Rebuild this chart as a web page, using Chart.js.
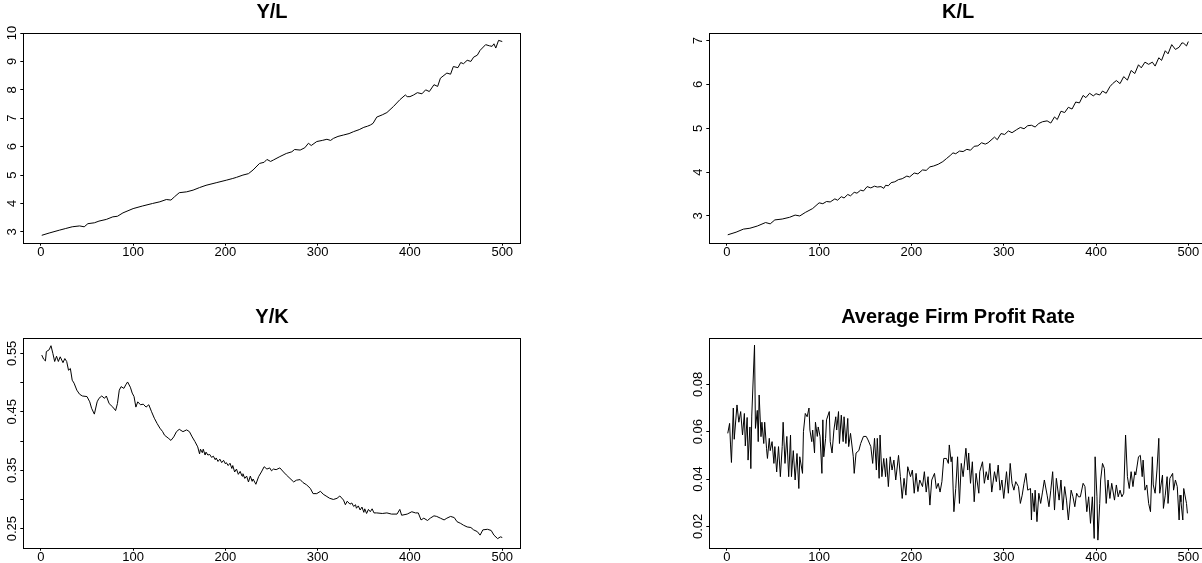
<!DOCTYPE html>
<html>
<head>
<meta charset="utf-8">
<script src="https://cdn.jsdelivr.net/npm/chart.js@4.4.1/dist/chart.umd.min.js"></script>
<style>
    html, body { margin: 0; padding: 0; background: #fff; overflow: hidden; }
    #wrap { position: relative; width: 1202px; height: 563px; overflow: hidden; }
    canvas { position: absolute; }
</style>
</head>
<body>
<div id="wrap">
    <canvas id="yl" width="540" height="270" style="left:0;top:0;width:540px;height:270px"></canvas>
    <canvas id="kl" width="540" height="270" style="left:680px;top:0;width:540px;height:270px"></canvas>
    <canvas id="yk" width="540" height="273" style="left:0;top:290px;width:540px;height:273px"></canvas>
    <canvas id="pr" width="540" height="273" style="left:680px;top:290px;width:540px;height:273px"></canvas>
</div>
<script>
// period axis
const xTicks = [0, 100, 200, 300, 400, 500];

// Y/L
const ylT = [1, 9, 20, 27, 34, 42, 47, 51, 58, 63, 71, 78, 83, 89, 100, 110, 121, 129, 136, 141,
    145, 150, 158, 165, 172, 179, 190, 201, 208, 212, 219, 225, 230, 237, 242, 245, 249, 252, 259, 266,
    272, 275, 281, 286, 290, 293, 299, 305, 310, 314, 317, 322, 328, 334, 339, 345, 350, 354, 357, 360,
    364, 370, 375, 382, 389, 395, 397, 400, 404, 408, 413, 417, 421, 426, 430, 433, 440, 444, 447, 452,
    455, 458, 462, 466, 469, 473, 476, 482, 486, 489, 491, 493, 496, 500];
const ylV = [2.88, 2.96, 3.06, 3.12, 3.18, 3.21, 3.18, 3.29, 3.32, 3.38, 3.44, 3.53, 3.55, 3.67, 3.82, 3.91, 4.0, 4.06, 4.14, 4.12,
    4.24, 4.38, 4.41, 4.47, 4.56, 4.64, 4.73, 4.82, 4.88, 4.92, 5.0, 5.05, 5.18, 5.41, 5.45, 5.55, 5.48, 5.53, 5.65, 5.76,
    5.82, 5.9, 5.88, 5.96, 6.12, 6.04, 6.18, 6.22, 6.26, 6.22, 6.29, 6.36, 6.41, 6.46, 6.53, 6.6, 6.68, 6.72, 6.76, 6.82,
    7.04, 7.12, 7.2, 7.41, 7.65, 7.82, 7.76, 7.76, 7.82, 7.9, 7.86, 8.0, 7.94, 8.18, 8.12, 8.41, 8.59, 8.55, 8.82, 8.78,
    8.96, 8.92, 9.04, 9.0, 9.15, 9.22, 9.39, 9.59, 9.55, 9.53, 9.62, 9.47, 9.74, 9.7];
const ylLabels = ['3', '4', '5', '6', '7', '8', '9', '10'];

// K/L
const klT = [1, 10, 18, 25, 33, 42, 47, 52, 60, 68, 74, 79, 85, 93,
    100, 104, 108, 112, 117, 120, 124, 127, 131, 134, 138, 141, 145, 148, 152, 156, 160, 163, 167, 170,
    172, 175, 178, 182, 186, 190, 195, 198, 203, 207, 212, 216, 220, 224, 229, 234, 238, 242, 245, 248,
    252, 256, 260, 264, 268, 272, 276, 280, 283,
    290, 293, 297, 301, 305, 309, 314, 318, 322, 326, 330, 334, 338, 342, 347, 351, 355, 358, 362, 366,
    370, 374, 378, 382, 386, 389, 393, 397, 400, 404, 407, 411, 415, 418, 422, 426, 430, 434, 438, 442,
    446, 449, 453, 457, 461, 464, 468, 471, 475, 478, 482, 486, 490, 493, 495, 498, 500];
const klV = [2.57, 2.63, 2.70, 2.72, 2.77, 2.85, 2.82, 2.91, 2.93, 2.97, 3.02, 3.0, 3.08, 3.17,
    3.30, 3.28, 3.33, 3.32, 3.39, 3.36, 3.44, 3.41, 3.49, 3.46, 3.54, 3.52, 3.59, 3.57, 3.67, 3.64, 3.68, 3.66, 3.67, 3.63,
    3.70, 3.69, 3.76, 3.78, 3.83, 3.85, 3.91, 3.89, 3.98, 3.96, 4.05, 4.04, 4.12, 4.14, 4.18, 4.24, 4.31, 4.38, 4.44, 4.42,
    4.48, 4.47, 4.52, 4.50, 4.59, 4.60, 4.67, 4.64, 4.67,
    4.80, 4.74, 4.88, 4.86, 4.94, 4.90, 4.97, 5.02, 4.99, 5.06, 5.07, 5.03, 5.11, 5.15, 5.17, 5.12, 5.26, 5.20, 5.39, 5.36,
    5.48, 5.44, 5.60, 5.58, 5.75, 5.70, 5.80, 5.74, 5.79, 5.76, 5.85, 5.80, 5.95, 6.02, 6.09, 6.02, 6.18, 6.10, 6.32, 6.25,
    6.45, 6.38, 6.51, 6.46, 6.51, 6.42, 6.61, 6.55, 6.77, 6.70, 6.91, 6.80, 6.85, 6.95, 6.94, 6.88, 6.98];
const klLabels = ['3', '4', '5', '6', '7'];

// Y/K
const ykT = [1, 3, 5, 6, 9, 11, 13, 15, 17, 19, 21, 24, 26, 28, 30, 32, 34, 36, 39, 42,
    45, 50, 53, 55, 58, 61, 63, 66, 69, 71, 74, 78, 81, 83, 85, 87, 90, 92, 94, 97,
    99, 101, 103, 105, 108, 111, 114, 117, 120, 123, 126, 129, 132, 134, 138, 141, 144, 147, 150, 154,
    158, 161, 164, 167,
    170, 172, 173, 175, 176, 178, 179, 181, 183, 185, 187, 189, 190, 192, 194, 196, 198, 200, 201, 203,
    205, 207, 208, 210, 212, 214, 216, 218, 219, 221, 223, 225, 227, 229, 230, 233, 236, 239, 242, 245,
    248, 250, 252, 255, 259,
    263, 266, 270, 274, 277, 281, 284, 288, 292, 295, 299, 303, 306, 310, 313, 317, 321, 324,
    328, 330, 332, 335, 337, 339, 341, 342, 344, 346, 348, 350, 351, 353, 355, 357, 359, 361,
    364, 370, 375, 380, 386, 389, 391, 397, 402, 406, 409, 412, 415, 419, 422, 426, 429, 433, 437, 440,
    444, 448, 451, 455, 458, 462, 466, 469, 473, 476, 479, 484, 488, 491, 495, 498, 500];
const ykV = [0.547, 0.540, 0.537, 0.553, 0.556, 0.563, 0.550, 0.536, 0.545, 0.536, 0.544, 0.534, 0.541, 0.536, 0.521, 0.524, 0.504, 0.499, 0.487, 0.480,
    0.477, 0.476, 0.467, 0.456, 0.446, 0.467, 0.473, 0.477, 0.473, 0.477, 0.464, 0.458, 0.452, 0.464, 0.487, 0.493, 0.490, 0.496, 0.501, 0.492,
    0.482, 0.476, 0.458, 0.467, 0.462, 0.463, 0.458, 0.462, 0.450, 0.439, 0.430, 0.422, 0.416, 0.410, 0.405, 0.401, 0.407, 0.416, 0.420, 0.416,
    0.419, 0.416, 0.407, 0.399,
    0.390, 0.378, 0.386, 0.380, 0.386, 0.376, 0.381, 0.376, 0.377, 0.372, 0.374, 0.368, 0.371, 0.365, 0.369, 0.363, 0.367, 0.361, 0.363, 0.358,
    0.362, 0.353, 0.358, 0.347, 0.352, 0.343, 0.348, 0.340, 0.344, 0.336, 0.340, 0.330, 0.340, 0.331, 0.335, 0.326, 0.339, 0.347, 0.356, 0.352,
    0.354, 0.349, 0.352, 0.351, 0.354,
    0.347, 0.342, 0.336, 0.330, 0.333, 0.334, 0.329, 0.325, 0.319, 0.310, 0.310, 0.314, 0.309, 0.305, 0.302, 0.300, 0.302, 0.306,
    0.299, 0.291, 0.297, 0.292, 0.294, 0.288, 0.291, 0.285, 0.289, 0.282, 0.287, 0.278, 0.284, 0.276, 0.283, 0.279, 0.284, 0.277,
    0.277, 0.276, 0.277, 0.275, 0.275, 0.283, 0.273, 0.275, 0.279, 0.277, 0.277, 0.265, 0.268, 0.264, 0.268, 0.272, 0.271, 0.268, 0.265, 0.268,
    0.271, 0.269, 0.262, 0.259, 0.256, 0.253, 0.252, 0.248, 0.245, 0.239, 0.248, 0.249, 0.247, 0.239, 0.233, 0.236, 0.235];
const ykLabels = ['0.25', '0.35', '0.45', '0.55'];

// Average Firm Profit Rate
const prT = [1, 3, 4, 5, 7, 8, 11, 13, 15, 17, 19, 20, 22, 23, 25, 26, 27, 30, 31, 33,
    34, 35, 37, 38, 40, 41, 43, 44, 46, 47, 49, 51, 52, 54, 56, 58, 60, 61, 63, 65,
    67, 69, 70, 72, 74, 76, 78, 79, 82, 83, 85, 87, 89, 90, 92, 93, 95, 96, 98, 99,
    101, 103, 104, 105, 107, 108, 111, 112, 114, 116, 118, 119, 121, 122, 124, 126, 127, 129, 131, 132,
    134, 137, 138, 140, 143, 145, 148, 151, 153, 156, 158, 160, 162, 163, 165, 166, 168, 170, 172, 173,
    175, 177, 179, 181, 183, 186, 188, 190, 192, 194, 196, 199, 201, 203, 205, 207, 209, 212, 214, 216,
    218, 220, 222, 225, 227, 229, 231, 233, 235, 238, 240, 241, 243, 244, 246, 248, 250, 252, 254, 256,
    259, 261, 262, 264, 266, 268, 270, 273, 274, 277, 279, 281, 283, 285, 287, 290, 292, 294, 296, 298,
    300, 303, 305, 307, 309, 311, 313, 316, 318, 320, 322, 324, 326, 329, 330, 331, 333, 334, 336, 338,
    340, 342, 344, 347, 349, 351, 353, 355, 357, 360, 362, 364, 366, 368, 370, 373, 375, 377, 379, 381,
    383, 386, 388, 390, 392, 394, 396, 398, 399, 401, 402, 404, 405, 407, 409, 411, 413, 415, 417, 420,
    422, 424, 426, 428, 430, 432, 434, 436, 438, 440, 442, 443, 446, 448, 450, 451, 453, 455, 457, 459,
    461, 462, 464, 466, 468, 469, 472, 473, 475, 477, 478, 480, 483, 484, 486, 488, 490, 491, 492, 494,
    495, 498, 499];
const prV = [0.0593, 0.0635, 0.0544, 0.047, 0.070, 0.0568, 0.0713, 0.064, 0.0685, 0.0586,
    0.0677, 0.054, 0.066, 0.048, 0.062, 0.0444, 0.0666, 0.0966, 0.0614, 0.069,
    0.0558, 0.0755, 0.0579, 0.064, 0.055, 0.064, 0.053, 0.0487, 0.0572, 0.052,
    0.0558, 0.0466, 0.0537, 0.043, 0.0537, 0.041, 0.0537, 0.064, 0.0466, 0.058,
    0.041, 0.0586, 0.041, 0.052, 0.0396, 0.0508, 0.036, 0.0494, 0.0424, 0.060,
    0.0677, 0.0663, 0.070, 0.0607, 0.0558, 0.0607, 0.051, 0.064, 0.058, 0.062,
    0.058, 0.0424, 0.065, 0.0494, 0.0572, 0.065, 0.0685, 0.0558, 0.051, 0.0607,
    0.0663, 0.0607, 0.0685, 0.055, 0.067, 0.0558, 0.0663, 0.055, 0.0656, 0.0537,
    0.0593, 0.0494, 0.0424, 0.051, 0.052, 0.055, 0.058, 0.058, 0.0565, 0.0537,
    0.0466, 0.0572, 0.0438, 0.0572, 0.0403, 0.0586, 0.041, 0.0487, 0.041, 0.0487,
    0.0368, 0.0494, 0.0438, 0.048, 0.0396, 0.050, 0.041, 0.0318, 0.0403, 0.0332,
    0.0452, 0.041, 0.0438, 0.034, 0.0424, 0.0347, 0.0396, 0.0368, 0.0431, 0.0345,
    0.041, 0.029, 0.0396, 0.0424, 0.036, 0.0382, 0.0345, 0.0389, 0.0487, 0.0487,
    0.0466, 0.0544, 0.0473, 0.0494, 0.0262, 0.036, 0.0494, 0.0297, 0.0466, 0.041,
    0.053, 0.0438, 0.051, 0.0382, 0.0473, 0.0304, 0.0424, 0.034, 0.0431, 0.0473,
    0.0382, 0.0431, 0.0396, 0.0466, 0.0345, 0.0431, 0.0389, 0.0459, 0.0353, 0.0396,
    0.0318, 0.0431, 0.034, 0.0466, 0.0382, 0.0353, 0.0389, 0.0368, 0.0297, 0.0332,
    0.0382, 0.0424, 0.0353, 0.036, 0.0227, 0.034, 0.0262, 0.0353, 0.022, 0.034,
    0.0297, 0.0345, 0.0396, 0.0332, 0.0283, 0.0353, 0.0431, 0.0269, 0.0403, 0.0311,
    0.0396, 0.0269, 0.0368, 0.0311, 0.0227, 0.0353, 0.0325, 0.0283, 0.034, 0.0325,
    0.0325, 0.0382, 0.0368, 0.0262, 0.0325, 0.0213, 0.0325, 0.0149, 0.0494, 0.0325,
    0.0142, 0.0297, 0.0396, 0.0466, 0.0445, 0.0297, 0.0396, 0.0318, 0.0382, 0.0311,
    0.0375, 0.0325, 0.0353, 0.0325, 0.034, 0.0586, 0.041, 0.036, 0.0431, 0.0368,
    0.0431, 0.0417, 0.0494, 0.050, 0.041, 0.048, 0.0353, 0.0375, 0.0297, 0.0262,
    0.0494, 0.0375, 0.034, 0.0438, 0.0572, 0.034, 0.0417, 0.0276, 0.0332, 0.041,
    0.0297, 0.0403, 0.0424, 0.0353, 0.0396, 0.0368, 0.0227, 0.0332, 0.0304, 0.0227,
    0.036, 0.0297, 0.0255];
const prLabels = ['0.02', '0.04', '0.06', '0.08'];

const FONT = '"Liberation Sans", Arial, Helvetica, sans-serif';

// box around the plot region, like R's bty="o"
const framePlugin = {
    id: 'frame',
    afterDraw(chart) {
        const { ctx, chartArea: a } = chart;
        ctx.save();
        ctx.strokeStyle = '#000';
        ctx.lineWidth = 1;
        ctx.strokeRect(Math.round(a.left) + 0.5, Math.round(a.top) + 0.5,
            Math.round(a.right - a.left), Math.round(a.bottom - a.top));
        ctx.restore();
    }
};

// R draws y labels parallel to the axis
const yLabelPlugin = {
    id: 'ylabels',
    afterDraw(chart, args, opts) {
        const { ctx, chartArea: a } = chart;
        const y = chart.scales.y;
        ctx.save();
        ctx.fillStyle = '#000';
        ctx.font = '13px ' + FONT;
        ctx.textAlign = 'center';
        ctx.textBaseline = 'middle';
        for (let lab of opts.labels) {
            const py = y.getPixelForValue(parseFloat(lab));
            ctx.save();
            ctx.translate(a.left - 11, py);
            ctx.rotate(-Math.PI / 2);
            ctx.fillText(lab, 0, 0);
            ctx.restore();
        }
        ctx.restore();
    }
};

function makePanel(id, title, xs, ys, p) {
    const points = xs.map((x, i) => ({ x: x, y: ys[i] }));
    return new Chart(document.getElementById(id), { // eslint-disable-line
        type: 'line',
        data: {
            datasets: [{
                data: points,
                borderColor: '#000',
                borderWidth: 1,
                pointRadius: 0,
                tension: 0,
                fill: false
            }]
        },
        options: {
            responsive: false,
            animation: false,
            events: [],
            layout: { padding: { left: 0, right: p.padRight, top: 0, bottom: 0 } },
            plugins: {
                legend: { display: false },
                tooltip: { enabled: false },
                title: {
                    display: true,
                    text: title,
                    fullSize: false,
                    color: '#000',
                    font: { family: FONT, size: 20, weight: 'bold' },
                    padding: { top: p.titleTop, bottom: p.titleBottom }
                },
                ylabels: { labels: p.labels }
            },
            scales: {
                x: {
                    type: 'linear',
                    min: -19,
                    max: 520,
                    afterBuildTicks: s => { s.ticks = xTicks.map(v => ({ value: v })); },
                    afterFit: s => { s.height = p.xAxisH; },
                    border: { display: false },
                    grid: { drawOnChartArea: false, tickLength: 3, color: '#000' },
                    ticks: {
                        color: '#000',
                        font: { family: FONT, size: 13 },
                        padding: -1,
                        maxRotation: 0,
                        autoSkip: false
                    }
                },
                y: {
                    type: 'linear',
                    min: p.yMin,
                    max: p.yMax,
                    afterBuildTicks: s => {
                        const t = [];
                        for (let v = p.tick0; v <= p.yMax + 1e-9; v += p.step) t.push({ value: v });
                        s.ticks = t;
                    },
                    afterFit: s => { s.width = p.axisW; },
                    border: { display: false },
                    grid: { drawOnChartArea: false, tickLength: 3, color: '#000' },
                    ticks: { display: false }
                }
            }
        },
        plugins: [framePlugin, yLabelPlugin]
    });
}

makePanel('yl', 'Y/L', ylT, ylV, {
    yMin: 2.62, yMax: 10.0, tick0: 3, step: 1, labels: ylLabels,
    axisW: 23.3, padRight: 19.3, titleTop: 0, titleBottom: 9, xAxisH: 27.3
});
makePanel('kl', 'K/L', klT, klV, {
    yMin: 2.39, yMax: 7.175, tick0: 3, step: 1, labels: klLabels,
    axisW: 29.3, padRight: 13.2, titleTop: 0, titleBottom: 9, xAxisH: 27.3
});
makePanel('yk', 'Y/K', ykT, ykV, {
    yMin: 0.2175, yMax: 0.5767, tick0: 0.25, step: 0.05, labels: ykLabels,
    axisW: 23.3, padRight: 19.3, titleTop: 15, titleBottom: 8.7, xAxisH: 15.3
});
makePanel('pr', 'Average Firm Profit Rate', prT, prV, {
    yMin: 0.011, yMax: 0.0997, tick0: 0.02, step: 0.02, labels: prLabels,
    axisW: 29.3, padRight: 13.2, titleTop: 15, titleBottom: 8.7, xAxisH: 15.3
});
</script>
</body>
</html>
